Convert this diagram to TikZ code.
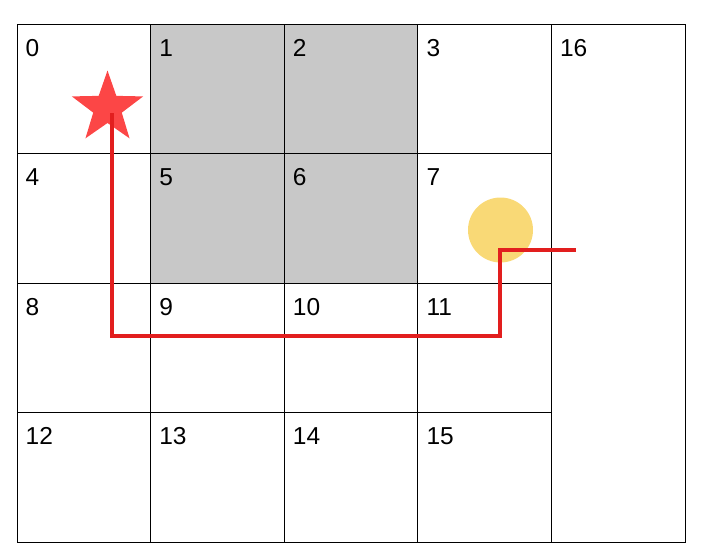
\documentclass[tikz,border=0pt]{standalone}
\usepackage{fontspec}
\setmainfont{Liberation Sans}
\usetikzlibrary{shapes.geometric}

\definecolor{cellgray}{RGB}{200,200,200}
\definecolor{routered}{RGB}{226,30,30}
\definecolor{goalred}{RGB}{252,70,70}
\definecolor{agentyellow}{RGB}{249,217,118}

\tikzset{
  cell/.style={draw=black, line width=1pt, minimum width=133.6pt, minimum height=129.6pt, anchor=north west, inner sep=0pt},
  wall/.style={cell, fill=cellgray},
  cellnum/.style={anchor=base west, inner sep=0pt, font=\fontsize{24.5}{29}\selectfont},
  route/.style={draw=routered, line width=3.2pt},
}

\begin{document}
\begin{tikzpicture}[x=1pt, y=-1pt]
\useasboundingbox (0,0) rectangle (707,557);

% grid of states
\foreach \n in {0,...,15} {
  \pgfmathtruncatemacro{\col}{mod(\n,4)}
  \pgfmathtruncatemacro{\row}{div(\n,4)}
  \ifnum\n=1 \def\look{wall}\else\ifnum\n=2 \def\look{wall}\else
  \ifnum\n=5 \def\look{wall}\else\ifnum\n=6 \def\look{wall}\else
  \def\look{cell}\fi\fi\fi\fi
  \node[\look] (cell\n) at (16.5+133.6*\col, 23.5+129.6*\row) {};
  \node[cellnum] (num\n) at ([shift={(9pt,-32.5pt)}]cell\n.north west) {\n};
}
\node[cell, minimum height=518.4pt] (cell16) at (550.9,23.5) {};
\node[cellnum] (num16) at ([shift={(9pt,-32.5pt)}]cell16.north west) {16};

% goal and agent
\node[star, star points=5, star point ratio=2.5, minimum size=75pt, inner sep=0pt, fill=goalred] (goal) at (107.5,108) {};
\node[circle, minimum size=65pt, inner sep=0pt, fill=agentyellow] (agent) at (500.5,230) {};

% route
\coordinate (pstart) at (112,113);
\coordinate (bend) at (500,336);
\coordinate (pend) at (576,250);
\draw[route] (pstart) |- (bend) |- (pend);
\end{tikzpicture}
\end{document}
